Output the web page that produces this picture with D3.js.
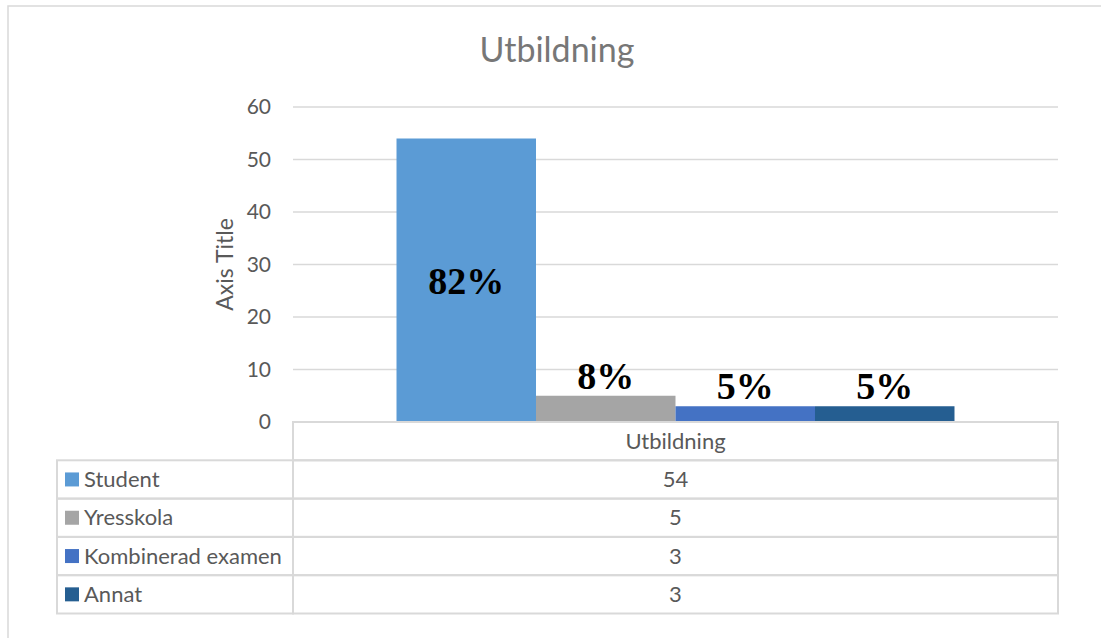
<!DOCTYPE html>
<html>
  <head>
    <meta charset="utf-8">
    <title>Utbildning</title>
    <script src="https://cdn.jsdelivr.net/npm/d3@7"></script>
    <style>
      body { margin: 0; background: #fff; }
      text { font-family: Lato, "Open Sans", sans-serif; fill: #595959; }
      .grid line { stroke: #d9d9d9; stroke-width: 1.5; }
      .cell { fill: none; stroke: #d9d9d9; stroke-width: 2; }
      text.pct { font-family: "Liberation Serif", "Times New Roman", serif; font-weight: bold; fill: #000; }
    </style>
  </head>

  <body>
    <svg id="chart" width="1101" height="638"></svg>

    <script>
      // data
      category = "Utbildning";
      series = ["Student", "Yresskola", "Kombinerad examen", "Annat"];
      values = [54, 5, 3, 3];
      shares = ["82%", "8%", "5%", "5%"];
      colours = ["#5b9bd5", "#a5a5a5", "#4472c4", "#255e91"];
      yTicks = [0, 10, 20, 30, 40, 50, 60];

      // layout
      svg = d3.select("#chart");
      plotLeft = 293; plotRight = 1058; plotTop = 107; plotBottom = 422;
      rowH = 38.3; legendLeft = 57;

      // outer frame
      svg.append("rect")
        .attr("x", 8).attr("y", 6)
        .attr("width", 1110).attr("height", 660)
        .attr("fill", "none").attr("stroke", "#d9d9d9").attr("stroke-width", 1.5);

      // title
      svg.append("text")
        .attr("x", 557).attr("y", 62)
        .attr("text-anchor", "middle")
        .style("font-size", "34px").style("fill", "#777")
        .text(category);

      // scales
      y = d3.scaleLinear().domain([0, 60]).range([plotBottom, plotTop]);
      x0 = d3.scaleBand().domain([category]).range([plotLeft, plotRight])
        .paddingInner(0).paddingOuter(0.1855);
      x1 = d3.scaleBand().domain(series).range([0, x0.bandwidth()]);

      // gridlines + ticks
      grid = svg.append("g").attr("class", "grid");
      grid.selectAll("line")
        .data(yTicks.filter(function(d) { return d > 0; }))
      .enter().append("line")
        .attr("x1", plotLeft).attr("x2", plotRight)
        .attr("y1", function(d) { return y(d); })
        .attr("y2", function(d) { return y(d); });

      axis = d3.axisLeft(y).tickValues(yTicks).tickSize(0).tickPadding(22);
      axisGroup = svg.append("g").attr("transform", "translate(" + plotLeft + ",0)").call(axis);
      axisGroup.select(".domain").remove();
      axisGroup.selectAll("text")
        .style("font-size", "21px").style("font-family", "Lato, sans-serif").attr("fill", "#595959");

      // axis title
      svg.append("text")
        .attr("transform", "translate(233," + (plotTop + plotBottom) / 2 + ") rotate(-90)")
        .attr("text-anchor", "middle")
        .style("font-size", "23px")
        .text("Axis Title");

      // bars
      bars = svg.append("g").attr("transform", "translate(" + x0(category) + ",0)");
      bars.selectAll("rect")
        .data(values)
      .enter().append("rect")
        .attr("x", function(d, i) { return x1(series[i]); })
        .attr("y", function(d) { return y(d); })
        .attr("width", x1.bandwidth())
        .attr("height", function(d) { return y(0) - y(d); })
        .attr("fill", function(d, i) { return colours[i]; });

      // percentage labels: big bar centred inside, small ones above
      bars.selectAll("text")
        .data(values)
      .enter().append("text")
        .attr("class", "pct")
        .attr("x", function(d, i) { return x1(series[i]) + x1.bandwidth() / 2; })
        .attr("y", function(d) {
          return d > 20 ? (y(d) + y(0)) / 2 + 14 : y(d) - 7;
        })
        .attr("text-anchor", "middle")
        .style("font-size", "38px")
        .text(function(d, i) { return shares[i]; });

      // data table
      table = svg.append("g");
      // header row
      table.append("rect").attr("class", "cell")
        .attr("x", plotLeft).attr("y", plotBottom)
        .attr("width", plotRight - plotLeft).attr("height", rowH);
      table.append("text")
        .attr("x", (plotLeft + plotRight) / 2).attr("y", plotBottom + rowH / 2)
        .attr("dy", "0.35em").attr("text-anchor", "middle")
        .style("font-size", "22px")
        .text(category);

      rows = table.selectAll("g.row")
        .data(series)
      .enter().append("g")
        .attr("class", "row")
        .attr("transform", function(d, i) { return "translate(0," + (plotBottom + rowH * (i + 1)) + ")"; });
      rows.append("rect").attr("class", "cell")
        .attr("x", legendLeft).attr("width", plotLeft - legendLeft).attr("height", rowH);
      rows.append("rect").attr("class", "cell")
        .attr("x", plotLeft).attr("width", plotRight - plotLeft).attr("height", rowH);
      rows.append("rect")
        .attr("x", 65).attr("y", rowH / 2 - 7)
        .attr("width", 14).attr("height", 14)
        .attr("fill", function(d, i) { return colours[i]; });
      rows.append("text")
        .attr("x", 84).attr("y", rowH / 2).attr("dy", "0.35em")
        .style("font-size", "22px")
        .text(function(d) { return d; });
      rows.append("text")
        .attr("x", (plotLeft + plotRight) / 2).attr("y", rowH / 2).attr("dy", "0.35em")
        .attr("text-anchor", "middle")
        .style("font-size", "22px")
        .text(function(d, i) { return values[i]; });
    </script>
  </body>
</html>
